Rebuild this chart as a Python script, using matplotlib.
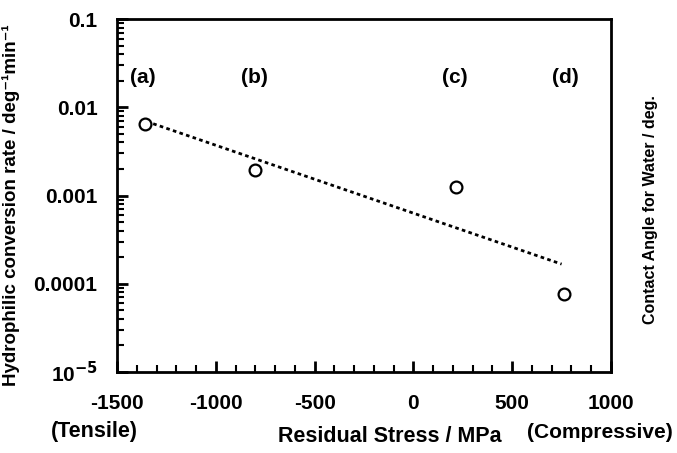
import matplotlib
matplotlib.use("Agg")
import matplotlib.pyplot as plt
from matplotlib.ticker import FixedLocator, LogLocator, NullFormatter, FixedFormatter

plt.rcParams['font.family'] = ['Liberation Sans', 'DejaVu Sans']
plt.rcParams['font.weight'] = 'bold'
plt.rcParams['mathtext.default'] = 'bf'
plt.rcParams['axes.unicode_minus'] = False

# data
stress = [-1360, -800, 215, 760]
rate = [0.0064, 0.00195, 0.00124, 0.000077]
fit_x = [-1350, 750]
fit_y = [0.0069, 0.000167]
sample_labels = ['(a)', '(b)', '(c)', '(d)']
label_x = [-1370, -805, 210, 770]
label_y = 0.022
xticks = [-1500, -1000, -500, 0, 500, 1000]
xtick_labels = ['-1500', '-1000', '-500', '0', '500', '1000']
yticks = [1e-5, 1e-4, 1e-3, 1e-2, 1e-1]
ytick_labels = ['10$^{-5}$', '0.0001', '0.001', '0.01', '0.1']

fig = plt.figure(figsize=(6.77, 4.53), dpi=100)
ax = fig.add_axes([0.1728, 0.1788, 0.7297, 0.7792])

ax.set_yscale('log')
ax.set_xlim(-1500, 1000)
ax.set_ylim(1e-5, 0.1)

ax.plot(fit_x, fit_y, color='black', lw=2.0, linestyle=(0, (1.3, 1.2)))
ax.plot(stress, rate, 'o', mfc='white', mec='black', mew=1.6, ms=8.5, ls='none')

for t, xx in zip(sample_labels, label_x):
    ax.text(xx, label_y, t, ha='center', va='center', fontsize=15, fontweight='bold')

for s in ax.spines.values():
    s.set_linewidth(2.0)

ax.xaxis.set_major_locator(FixedLocator(xticks))
ax.xaxis.set_major_formatter(FixedFormatter(xtick_labels))
ax.xaxis.set_minor_locator(FixedLocator(list(range(-1500, 1001, 100))))
ax.yaxis.set_major_locator(FixedLocator(yticks))
ax.yaxis.set_major_formatter(FixedFormatter(ytick_labels))
ax.yaxis.set_minor_locator(LogLocator(base=10, subs=range(2, 10)))
ax.yaxis.set_minor_formatter(NullFormatter())

ax.tick_params(which='major', direction='in', length=8, width=2, labelsize=15, top=False, right=False)
ax.tick_params(which='minor', direction='in', length=5, width=1.5, top=False, right=False)
ax.tick_params(axis='x', which='major', pad=16)
ax.tick_params(axis='y', which='major', pad=14)
for lab in ax.get_xticklabels() + ax.get_yticklabels():
    lab.set_fontweight('bold')

ax.set_ylabel('Hydrophilic conversion rate / deg\u207b\u00b9min\u207b\u00b9', fontsize=13.5, fontweight='bold')
ax.yaxis.set_label_coords(-0.196, 0.473)

fig.text(390 / 677, 1 - 437 / 453, 'Residual Stress / MPa', ha='center', va='center', fontsize=15.5, fontweight='bold')
fig.text(94 / 677, 1 - 432 / 453, '(Tensile)', ha='center', va='center', fontsize=15.5, fontweight='bold')
fig.text(600 / 677, 1 - 433 / 453, '(Compressive)', ha='center', va='center', fontsize=15, fontweight='bold')
fig.text(651 / 677, 1 - 210 / 453, 'Contact Angle for Water / deg.', ha='center', va='center', rotation=90, fontsize=11.5, fontweight='bold')

fig.savefig('out.png', dpi=100, facecolor='white')
